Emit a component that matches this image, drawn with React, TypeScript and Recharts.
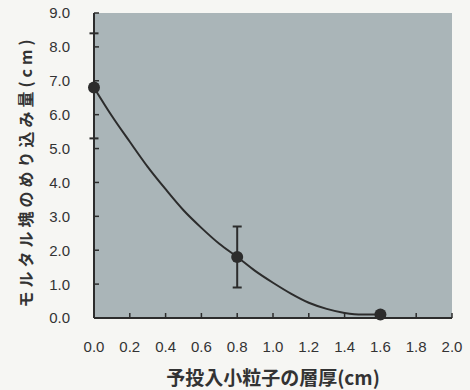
import React from "react";
import {
  ComposedChart,
  Line,
  Scatter,
  ErrorBar,
  XAxis,
  YAxis,
} from "recharts";

// Measured layer thickness (cm) and mortar penetration (cm)
const thickness = [0, 0.8, 1.6];
const penetration = [6.8, 1.8, 0.1];
const penetrationLow = [5.3, 0.9, 0.1];
const penetrationHigh = [8.4, 2.7, 0.1];

// Fitted trend curve
const curveX = [0, 0.1, 0.2, 0.3, 0.4, 0.5, 0.6, 0.7, 0.8, 0.9, 1.0, 1.1, 1.2, 1.3, 1.4, 1.5, 1.6];
const curveY = [6.8, 5.96, 5.2, 4.46, 3.8, 3.18, 2.66, 2.19, 1.8, 1.39, 1.04, 0.72, 0.45, 0.27, 0.15, 0.1, 0.1];

const xTicks = [0, 0.2, 0.4, 0.6, 0.8, 1.0, 1.2, 1.4, 1.6, 1.8, 2.0];
const yTicks = [0, 1, 2, 3, 4, 5, 6, 7, 8, 9];

const xTitle = "予投入小粒子の層厚(cm)";
const yTitle = "モルタル塊のめり込み量(cm)";

const points = thickness.map((x, i) => ({
  x,
  y: penetration[i],
  err: [penetration[i] - penetrationLow[i], penetrationHigh[i] - penetration[i]],
}));
const curve = curveX.map((x, i) => ({ x, y: curveY[i] }));

const W = 470;
const H = 390;
const MARGIN = { top: 13, right: 18, left: 34, bottom: 42 };
const Y_AXIS_W = 60;
const X_AXIS_H = 30;

// plot panel placed behind the transparent chart svg
const PLOT = {
  left: MARGIN.left + Y_AXIS_W,
  top: MARGIN.top,
  width: W - MARGIN.left - Y_AXIS_W - MARGIN.right,
  height: H - MARGIN.top - MARGIN.bottom - X_AXIS_H,
};

const INK = "#2c2c2c";
const FRAME = "#8a8f90";
const FONT = "'Noto Sans CJK JP', 'Noto Sans', sans-serif";
const TICK_FONT = "'Liberation Sans', Arial, sans-serif";

// gap between tick text and axis line, and inward tick length
const Y_GAP = 24;
const X_GAP = 23;
const TICK_LEN = 5;

const Dot = (props: any) => (
  <circle cx={props.cx} cy={props.cy} r={6} fill={INK} />
);

const YTick = (props: any) => {
  const { x, y, payload } = props;
  return (
    <g>
      <line
        x1={x + Y_GAP}
        x2={x + Y_GAP + TICK_LEN}
        y1={y}
        y2={y}
        stroke={INK}
        strokeWidth={1.5}
      />
      <text
        x={x}
        y={y}
        dy="0.36em"
        textAnchor="end"
        fontFamily={TICK_FONT}
        fontSize={15}
        fill="#333"
      >
        {Number(payload.value).toFixed(1)}
      </text>
    </g>
  );
};

const XTick = (props: any) => {
  const { x, y, payload } = props;
  return (
    <g>
      <line
        x1={x}
        x2={x}
        y1={y - X_GAP}
        y2={y - X_GAP - TICK_LEN}
        stroke={INK}
        strokeWidth={1.5}
      />
      <text
        x={x}
        y={y}
        dy="0.75em"
        textAnchor="middle"
        fontFamily={TICK_FONT}
        fontSize={15}
        fill="#333"
      >
        {Number(payload.value).toFixed(1)}
      </text>
    </g>
  );
};

const XTitle = (props: any) => {
  const vb = props.viewBox;
  return (
    <text
      x={vb.x + vb.width / 2}
      y={vb.y + 67}
      textAnchor="middle"
      fontFamily={FONT}
      fontWeight="bold"
      fontSize={19}
      fill="#333"
    >
      {xTitle}
    </text>
  );
};

const YTitle = (props: any) => {
  const vb = props.viewBox;
  const cx = vb.x - 9.5;
  const cy = vb.y + vb.height / 2 + 6;
  return (
    <text
      x={cx}
      y={cy}
      transform={`rotate(-90, ${cx}, ${cy})`}
      textAnchor="middle"
      dominantBaseline="central"
      fontFamily={FONT}
      fontWeight="bold"
      fontSize={16}
      letterSpacing={4}
      fill="#333"
    >
      {yTitle}
    </text>
  );
};

export default function App() {
  return (
    <div
      style={{
        position: "absolute",
        left: 0,
        top: 0,
        width: W,
        height: H,
        background: "#f6f6f3",
      }}
    >
      <div
        style={{
          position: "absolute",
          left: PLOT.left,
          top: PLOT.top,
          width: PLOT.width,
          height: PLOT.height,
          background: "#aab5b8",
        }}
      />
      <div style={{ position: "absolute", left: 0, top: 0 }}>
        <ComposedChart width={W} height={H} margin={MARGIN}>
          {/* thin frame on the top and right sides */}
          <XAxis
            xAxisId="top"
            orientation="top"
            type="number"
            domain={[0, 2]}
            height={0}
            tick={false}
            tickLine={false}
            axisLine={{ stroke: FRAME, strokeWidth: 1.5 }}
          />
          <YAxis
            yAxisId="right"
            orientation="right"
            type="number"
            domain={[0, 9]}
            width={0}
            tick={false}
            tickLine={false}
            axisLine={{ stroke: FRAME, strokeWidth: 1.5 }}
          />
          <XAxis
            type="number"
            dataKey="x"
            domain={[0, 2]}
            ticks={xTicks}
            height={X_AXIS_H}
            axisLine={{ stroke: INK, strokeWidth: 2 }}
            tickLine={false}
            tickSize={-TICK_LEN}
            tickMargin={X_GAP + TICK_LEN}
            tick={<XTick />}
            interval={0}
            label={<XTitle />}
          />
          <YAxis
            type="number"
            dataKey="y"
            domain={[0, 9]}
            ticks={yTicks}
            width={Y_AXIS_W}
            axisLine={{ stroke: INK, strokeWidth: 2 }}
            tickLine={false}
            tickSize={-TICK_LEN}
            tickMargin={Y_GAP + TICK_LEN}
            tick={<YTick />}
            interval={0}
            label={<YTitle />}
          />
          <Line
            data={curve}
            dataKey="y"
            type="monotone"
            dot={false}
            stroke={INK}
            strokeWidth={2}
            isAnimationActive={false}
          />
          <Scatter
            data={points}
            dataKey="y"
            shape={<Dot />}
            isAnimationActive={false}
          >
            <ErrorBar
              dataKey="err"
              direction="y"
              width={4.5}
              stroke={INK}
              strokeWidth={2}
              isAnimationActive={false}
            />
          </Scatter>
        </ComposedChart>
      </div>
    </div>
  );
}
